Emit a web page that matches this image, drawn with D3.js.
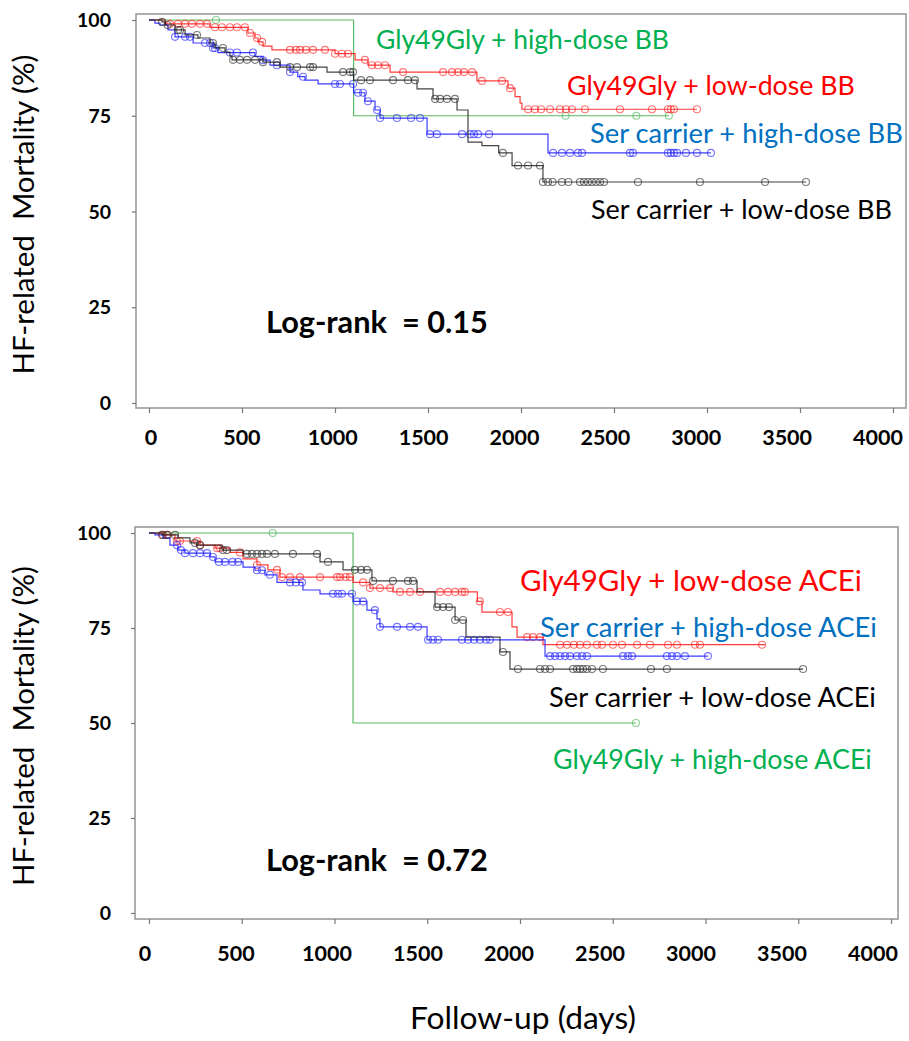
<!DOCTYPE html>
<html lang="en">
<head>
<meta charset="UTF-8"/>
<title>HF-related mortality by genotype and dose</title>
<script src="https://d3js.org/d3.v7.min.js"></script>
<style>
  body { margin: 0; background: #fff; }
  svg text { font-family: Lato, "Open Sans", sans-serif; white-space: pre; }
  svg text.tick { font-weight: bold; }
</style>
</head>
<body>
<div id="chart"></div>
<script>

// ---- data: Kaplan-Meier steps [day, %] and censored days ----

// top panel : beta blockers
var bbGlyHighSteps = [[0,100],[1100,75],[2795,75]];
var bbGlyHighCensored = [360, 2240, 2620, 2795];

var bbGlyLowSteps = [[0,100],[86,99],[328,98.1],[532,96.6],[570,95.3],[586,94.3],[613,93.2],[661,92.2],
  [1000,91.2],[1108,89.6],[1177,88.2],[1296,86.4],[1763,84.1],[1930,82.2],[1968,80],[1995,78.3],
  [2005,76.7],[2946,76.7]];
var bbGlyLowCensored = [113,156,194,231,274,312,355,392,435,473,516,543,581,608,758,790,812,844,882,946,
  1000,1038,1070,1161,1199,1231,1269,1366,1581,1629,1661,1694,1737,1790,1898,1941,2038,2075,2108,2156,
  2210,2242,2274,2344,2532,2704,2790,2806,2822,2946];

var bbSerHighSteps = [[0,100],[32,99.2],[59,98.7],[102,97.4],[140,95.6],[237,94],[344,92.7],[371,91.5],
  [570,90.5],[613,89.5],[651,88.2],[758,86.4],[800,85.2],[839,84.3],[909,83.3],[1100,81],[1161,78.8],
  [1215,76.5],[1242,74.4],[1495,70.2],[2145,65.3],[3021,65.3]];
var bbSerHighCensored = [140,194,220,301,328,344,355,435,473,559,613,688,758,828,1000,1027,1097,1124,1151,
  1177,1226,1242,1333,1409,1457,1511,1548,1683,1726,1747,1769,1828,2172,2220,2263,2306,2328,2586,2602,
  2790,2806,2822,2839,2887,2946,3021];

var bbSerLowSteps = [[0,100],[70,99.5],[86,98.7],[140,97.4],[194,96.1],[263,95.3],[328,94],[355,92.7],
  [409,91.6],[435,90.6],[446,89.6],[613,89],[704,87.7],[957,86.4],[1100,84.3],[1441,82],[1527,79.4],
  [1656,76.5],[1715,68.1],[1790,67.2],[1880,65.3],[1952,62],[2118,57.7],[3532,57.7]];
var bbSerLowCensored = [70,100,156,167,258,344,398,452,489,527,570,613,688,758,796,866,882,1043,1081,1097,
  1140,1188,1312,1392,1430,1538,1565,1602,1645,1903,1984,2038,2102,2118,2145,2170,2220,2255,2317,2338,
  2360,2381,2403,2425,2446,2629,2962,3312,3532];

// bottom panel : ACE inhibitors
var aceGlyHighSteps = [[0,100],[1100,50],[2625,50]];
var aceGlyHighCensored = [667, 2625];

var aceGlyLowSteps = [[0,100],[75,99.5],[140,97.9],[275,96.8],[356,96],[437,94.9],[507,93.2],[582,91.6],
  [641,90.3],[706,88.4],[1100,87],[1191,85.5],[1315,84.5],[1770,82],[1795,79.2],[1957,75.3],[1984,72.6],
  [2124,70.6],[3320,70.6]];
var aceGlyLowCensored = [75,100,150,167,259,275,367,383,490,582,690,717,760,814,922,1013,1030,1060,1083,
  1154,1191,1245,1300,1353,1407,1461,1569,1612,1650,1687,1703,1784,1892,1935,2038,2070,2108,2216,2253,
  2291,2323,2361,2415,2442,2501,2550,2631,2701,2798,2846,2943,2970,3305];

var aceSerHighSteps = [[0,100],[32,99.5],[75,98.7],[113,96.8],[156,95.5],[194,94.7],[329,93.7],[356,92.4],
  [507,91],[571,90.2],[625,89],[690,87],[830,85],[922,84],[1100,82],[1175,79.7],[1229,77.4],[1245,75.3],
  [1499,71.9],[2135,67.6],[3013,67.6]];
var aceSerHighCensored = [151,172,194,237,275,313,345,377,410,450,480,582,609,652,760,792,825,992,1019,
  1040,1094,1121,1154,1218,1245,1337,1407,1450,1504,1531,1558,1687,1720,1752,1784,1817,1838,2162,2189,
  2216,2243,2270,2307,2334,2361,2555,2582,2604,2792,2819,2846,2889,3013];

var aceSerLowSteps = [[0,100],[70,99.5],[156,98.7],[221,97.4],[259,96.8],[394,95.5],[507,94.5],[922,92.4],
  [1046,90.3],[1202,87.4],[1445,84.5],[1542,80.5],[1650,77.1],[1709,72.6],[1892,68.7],[1946,64.2],
  [3526,64.2]];
var aceSerLowCensored = [70,97,140,248,275,399,420,528,555,582,609,636,679,776,906,965,1110,1143,1175,
  1208,1315,1396,1423,1553,1585,1617,1650,1693,1908,1989,2108,2135,2162,2286,2307,2323,2340,2361,2388,
  2447,2706,2792,3526];

var xTicks = [0, 500, 1000, 1500, 2000, 2500, 3000, 3500, 4000];
var yTicks = [0, 25, 50, 75, 100];

// ---- chart ----
var w = 909, h = 1041;
var lineColors = {green: "#3fae49", red: "#ff1a1a", blue: "#1a1aff", black: "#222"};
var textColors = {green: "#00b050", red: "#ff0000", blue: "#0070c0", black: "#000"};

var panels = [
  { frame: [136, 14, 906, 408], xr: [149, 893], yr: [403, 20], labelXr: [151, 878], tickLabelY: 445,
    logrank: "Log-rank  = 0.15", logrankPos: [266, 333],
    series: [
      {name: "Gly49Gly + high-dose BB", color: "green", steps: bbGlyHighSteps, cens: bbGlyHighCensored, lab: [376, 49, 293]},
      {name: "Gly49Gly + low-dose BB", color: "red", steps: bbGlyLowSteps, cens: bbGlyLowCensored, lab: [567, 95, 288]},
      {name: "Ser carrier + high-dose BB", color: "blue", steps: bbSerHighSteps, cens: bbSerHighCensored, lab: [590, 143, 313]},
      {name: "Ser carrier + low-dose BB", color: "black", steps: bbSerLowSteps, cens: bbSerLowCensored, lab: [591, 219, 301]}
    ]},
  { frame: [135, 527, 898, 919], xr: [149, 891], yr: [913, 533], labelXr: [145, 873], tickLabelY: 961,
    logrank: "Log-rank  = 0.72", logrankPos: [266, 871],
    series: [
      {name: "Gly49Gly + high-dose ACEi", color: "green", steps: aceGlyHighSteps, cens: aceGlyHighCensored, lab: [553, 769, 319]},
      {name: "Gly49Gly + low-dose ACEi", color: "red", steps: aceGlyLowSteps, cens: aceGlyLowCensored, lab: [520, 591, 342]},
      {name: "Ser carrier + high-dose ACEi", color: "blue", steps: aceSerHighSteps, cens: aceSerHighCensored, lab: [540, 637, 337]},
      {name: "Ser carrier + low-dose ACEi", color: "black", steps: aceSerLowSteps, cens: aceSerLowCensored, lab: [549, 707, 327]}
    ]}
];

var svg = d3.select("#chart")
            .append("svg")
            .attr("width", w)
            .attr("height", h);

// scale a text's font size so it spans the given width
function fitWidth(sel, target) {
  var node = sel.node();
  var fs = parseFloat(sel.style("font-size"));
  var cur = node.getComputedTextLength();
  if (cur > 0) sel.style("font-size", (fs * target / cur) + "px");
}

function stepValue(steps, t) {
  var v = steps[0][1];
  for (var i = 0; i < steps.length; i++) {
    if (steps[i][0] <= t) v = steps[i][1];
  }
  return v;
}

panels.forEach(function(p) {
  var x = d3.scaleLinear().domain([0, 4000]).range(p.xr);
  var y = d3.scaleLinear().domain([0, 100]).range(p.yr);
  var xLab = d3.scaleLinear().domain([0, 4000]).range(p.labelXr);
  var f = p.frame;

  var g = svg.append("g");

  // frame
  g.append("rect")
    .attr("x", f[0]).attr("y", f[1])
    .attr("width", f[2] - f[0]).attr("height", f[3] - f[1])
    .attr("fill", "none")
    .attr("stroke", "#9a9a9a")
    .attr("stroke-width", 1.6);

  // x axis ticks
  var xAxis = g.append("g")
    .attr("transform", "translate(0," + f[3] + ")")
    .call(d3.axisBottom(x).tickValues(xTicks).tickSize(5).tickSizeOuter(0).tickFormat(""));
  xAxis.select(".domain").remove();
  xAxis.selectAll("line").attr("stroke", "#777").attr("stroke-width", 1.2);

  g.selectAll(".xlab")
    .data(xTicks)
    .enter()
    .append("text")
    .attr("class", "tick")
    .attr("x", function(d) { return xLab(d); })
    .attr("y", p.tickLabelY)
    .attr("text-anchor", "middle")
    .style("font-size", "21.5px")
    .text(function(d) { return d; });

  // y axis ticks
  var yAxis = g.append("g")
    .attr("transform", "translate(" + f[0] + ",0)")
    .call(d3.axisLeft(y).tickValues(yTicks).tickSize(4).tickSizeOuter(0).tickFormat(""));
  yAxis.select(".domain").remove();
  yAxis.selectAll("line").attr("stroke", "#777").attr("stroke-width", 1.2);

  g.selectAll(".ylab")
    .data(yTicks)
    .enter()
    .append("text")
    .attr("class", "tick")
    .attr("x", 111)
    .attr("y", function(d) { return y(d); })
    .attr("dy", "0.36em")
    .attr("text-anchor", "end")
    .style("font-size", "19.5px")
    .text(function(d) { return d; });

  // y axis title
  var yc = (p.yr[0] + p.yr[1]) / 2 + 3;
  var yt = g.append("text")
    .attr("transform", "translate(34," + yc + ") rotate(-90)")
    .attr("text-anchor", "middle")
    .style("font-size", "25px")
    .text("HF-related  Mortality (%)");
  fitWidth(yt, 320);

  // curves
  var line = d3.line()
    .x(function(d) { return x(d[0]); })
    .y(function(d) { return y(d[1]); })
    .curve(d3.curveStepAfter);

  p.series.forEach(function(s) {
    g.append("path")
      .datum(s.steps)
      .attr("d", line)
      .attr("fill", "none")
      .attr("stroke", lineColors[s.color])
      .attr("stroke-width", 1.2)
      .attr("opacity", 0.85);

    g.selectAll(null)
      .data(s.cens)
      .enter()
      .append("circle")
      .attr("cx", function(d) { return x(d); })
      .attr("cy", function(d) { return y(stepValue(s.steps, d)); })
      .attr("r", 3.5)
      .attr("fill", "none")
      .attr("stroke", lineColors[s.color])
      .attr("stroke-width", 1.1)
      .attr("opacity", 0.6);
  });

  // legend labels
  p.series.forEach(function(s) {
    var t = g.append("text")
      .attr("x", s.lab[0])
      .attr("y", s.lab[1])
      .attr("fill", textColors[s.color])
      .style("font-size", "26px")
      .text(s.name);
    fitWidth(t, s.lab[2]);
  });

  var lr = g.append("text")
    .attr("x", p.logrankPos[0])
    .attr("y", p.logrankPos[1])
    .style("font-size", "25px")
    .style("font-weight", "bold")
    .text(p.logrank);
  fitWidth(lr, 222);
});

// x axis title
var xt = svg.append("text")
  .attr("x", 523)
  .attr("y", 1029)
  .attr("text-anchor", "middle")
  .style("font-size", "26px")
  .text("Follow-up (days)");
fitWidth(xt, 226);

</script>
</body>
</html>
